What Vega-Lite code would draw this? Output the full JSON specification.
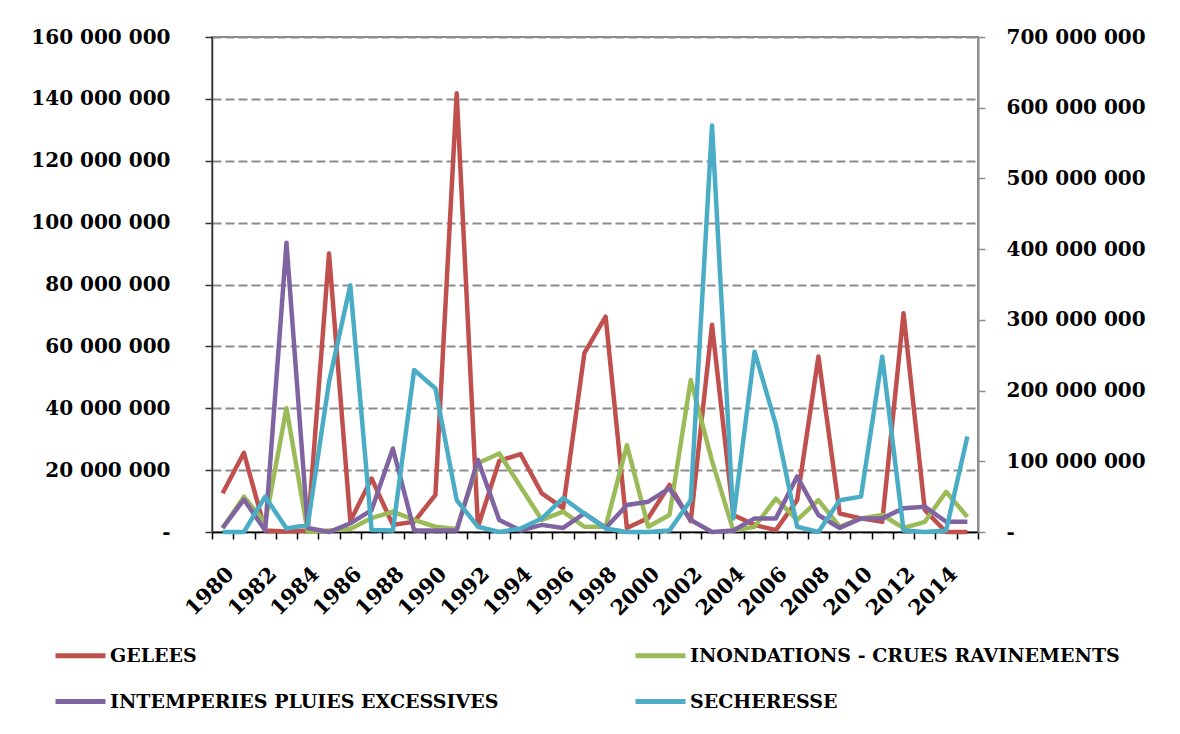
{
  "$schema": "https://vega.github.io/schema/vega-lite/v6.json",
  "width": 766,
  "height": 495,
  "autosize": {"type": "none"},
  "padding": {"left": 212, "top": 37, "right": 202, "bottom": 202},
  "background": "white",
  "config": {
    "view": {"stroke": "#8c8c8c", "strokeWidth": 2},
    "font": "DejaVu Serif",
    "axis": {
      "labelFont": "DejaVu Serif",
      "labelFontWeight": "bold",
      "labelFontSize": 20,
      "labelColor": "#000000",
      "tickSize": 7,
      "tickWidth": 1.5,
      "title": null
    }
  },
  "datasets": {
    "primary": [
      {"year": 1980, "series": "GELEES", "value": 12500000},
      {"year": 1981, "series": "GELEES", "value": 25600000},
      {"year": 1982, "series": "GELEES", "value": 500000},
      {"year": 1983, "series": "GELEES", "value": 200000},
      {"year": 1984, "series": "GELEES", "value": 500000},
      {"year": 1985, "series": "GELEES", "value": 90000000},
      {"year": 1986, "series": "GELEES", "value": 3500000},
      {"year": 1987, "series": "GELEES", "value": 17300000},
      {"year": 1988, "series": "GELEES", "value": 2300000},
      {"year": 1989, "series": "GELEES", "value": 3300000},
      {"year": 1990, "series": "GELEES", "value": 12000000},
      {"year": 1991, "series": "GELEES", "value": 141800000},
      {"year": 1992, "series": "GELEES", "value": 1700000},
      {"year": 1993, "series": "GELEES", "value": 23000000},
      {"year": 1994, "series": "GELEES", "value": 25200000},
      {"year": 1995, "series": "GELEES", "value": 12500000},
      {"year": 1996, "series": "GELEES", "value": 7700000},
      {"year": 1997, "series": "GELEES", "value": 57800000},
      {"year": 1998, "series": "GELEES", "value": 69600000},
      {"year": 1999, "series": "GELEES", "value": 1300000},
      {"year": 2000, "series": "GELEES", "value": 4500000},
      {"year": 2001, "series": "GELEES", "value": 15200000},
      {"year": 2002, "series": "GELEES", "value": 3500000},
      {"year": 2003, "series": "GELEES", "value": 67000000},
      {"year": 2004, "series": "GELEES", "value": 5500000},
      {"year": 2005, "series": "GELEES", "value": 2300000},
      {"year": 2006, "series": "GELEES", "value": 600000},
      {"year": 2007, "series": "GELEES", "value": 10300000},
      {"year": 2008, "series": "GELEES", "value": 56700000},
      {"year": 2009, "series": "GELEES", "value": 6000000},
      {"year": 2010, "series": "GELEES", "value": 4400000},
      {"year": 2011, "series": "GELEES", "value": 3300000},
      {"year": 2012, "series": "GELEES", "value": 70700000},
      {"year": 2013, "series": "GELEES", "value": 7100000},
      {"year": 2014, "series": "GELEES", "value": 0},
      {"year": 2015, "series": "GELEES", "value": 0},
      {"year": 1980, "series": "INONDATIONS - CRUES RAVINEMENTS", "value": 1300000},
      {"year": 1981, "series": "INONDATIONS - CRUES RAVINEMENTS", "value": 11400000},
      {"year": 1982, "series": "INONDATIONS - CRUES RAVINEMENTS", "value": 3000000},
      {"year": 1983, "series": "INONDATIONS - CRUES RAVINEMENTS", "value": 40000000},
      {"year": 1984, "series": "INONDATIONS - CRUES RAVINEMENTS", "value": 0},
      {"year": 1985, "series": "INONDATIONS - CRUES RAVINEMENTS", "value": 500000},
      {"year": 1986, "series": "INONDATIONS - CRUES RAVINEMENTS", "value": 1000000},
      {"year": 1987, "series": "INONDATIONS - CRUES RAVINEMENTS", "value": 4500000},
      {"year": 1988, "series": "INONDATIONS - CRUES RAVINEMENTS", "value": 6600000},
      {"year": 1989, "series": "INONDATIONS - CRUES RAVINEMENTS", "value": 3900000},
      {"year": 1990, "series": "INONDATIONS - CRUES RAVINEMENTS", "value": 1700000},
      {"year": 1991, "series": "INONDATIONS - CRUES RAVINEMENTS", "value": 1000000},
      {"year": 1992, "series": "INONDATIONS - CRUES RAVINEMENTS", "value": 22200000},
      {"year": 1993, "series": "INONDATIONS - CRUES RAVINEMENTS", "value": 25400000},
      {"year": 1994, "series": "INONDATIONS - CRUES RAVINEMENTS", "value": 14600000},
      {"year": 1995, "series": "INONDATIONS - CRUES RAVINEMENTS", "value": 3900000},
      {"year": 1996, "series": "INONDATIONS - CRUES RAVINEMENTS", "value": 6600000},
      {"year": 1997, "series": "INONDATIONS - CRUES RAVINEMENTS", "value": 1700000},
      {"year": 1998, "series": "INONDATIONS - CRUES RAVINEMENTS", "value": 1700000},
      {"year": 1999, "series": "INONDATIONS - CRUES RAVINEMENTS", "value": 28100000},
      {"year": 2000, "series": "INONDATIONS - CRUES RAVINEMENTS", "value": 1700000},
      {"year": 2001, "series": "INONDATIONS - CRUES RAVINEMENTS", "value": 5500000},
      {"year": 2002, "series": "INONDATIONS - CRUES RAVINEMENTS", "value": 49100000},
      {"year": 2003, "series": "INONDATIONS - CRUES RAVINEMENTS", "value": 23000000},
      {"year": 2004, "series": "INONDATIONS - CRUES RAVINEMENTS", "value": 500000},
      {"year": 2005, "series": "INONDATIONS - CRUES RAVINEMENTS", "value": 1700000},
      {"year": 2006, "series": "INONDATIONS - CRUES RAVINEMENTS", "value": 10800000},
      {"year": 2007, "series": "INONDATIONS - CRUES RAVINEMENTS", "value": 3900000},
      {"year": 2008, "series": "INONDATIONS - CRUES RAVINEMENTS", "value": 10300000},
      {"year": 2009, "series": "INONDATIONS - CRUES RAVINEMENTS", "value": 1700000},
      {"year": 2010, "series": "INONDATIONS - CRUES RAVINEMENTS", "value": 4400000},
      {"year": 2011, "series": "INONDATIONS - CRUES RAVINEMENTS", "value": 5500000},
      {"year": 2012, "series": "INONDATIONS - CRUES RAVINEMENTS", "value": 1300000},
      {"year": 2013, "series": "INONDATIONS - CRUES RAVINEMENTS", "value": 3300000},
      {"year": 2014, "series": "INONDATIONS - CRUES RAVINEMENTS", "value": 13000000},
      {"year": 2015, "series": "INONDATIONS - CRUES RAVINEMENTS", "value": 4900000},
      {"year": 1980, "series": "INTEMPERIES PLUIES EXCESSIVES", "value": 1300000},
      {"year": 1981, "series": "INTEMPERIES PLUIES EXCESSIVES", "value": 10500000},
      {"year": 1982, "series": "INTEMPERIES PLUIES EXCESSIVES", "value": 500000},
      {"year": 1983, "series": "INTEMPERIES PLUIES EXCESSIVES", "value": 93500000},
      {"year": 1984, "series": "INTEMPERIES PLUIES EXCESSIVES", "value": 1300000},
      {"year": 1985, "series": "INTEMPERIES PLUIES EXCESSIVES", "value": 0},
      {"year": 1986, "series": "INTEMPERIES PLUIES EXCESSIVES", "value": 2800000},
      {"year": 1987, "series": "INTEMPERIES PLUIES EXCESSIVES", "value": 7100000},
      {"year": 1988, "series": "INTEMPERIES PLUIES EXCESSIVES", "value": 27000000},
      {"year": 1989, "series": "INTEMPERIES PLUIES EXCESSIVES", "value": 500000},
      {"year": 1990, "series": "INTEMPERIES PLUIES EXCESSIVES", "value": 500000},
      {"year": 1991, "series": "INTEMPERIES PLUIES EXCESSIVES", "value": 500000},
      {"year": 1992, "series": "INTEMPERIES PLUIES EXCESSIVES", "value": 23300000},
      {"year": 1993, "series": "INTEMPERIES PLUIES EXCESSIVES", "value": 3900000},
      {"year": 1994, "series": "INTEMPERIES PLUIES EXCESSIVES", "value": 500000},
      {"year": 1995, "series": "INTEMPERIES PLUIES EXCESSIVES", "value": 2300000},
      {"year": 1996, "series": "INTEMPERIES PLUIES EXCESSIVES", "value": 1300000},
      {"year": 1997, "series": "INTEMPERIES PLUIES EXCESSIVES", "value": 6000000},
      {"year": 1998, "series": "INTEMPERIES PLUIES EXCESSIVES", "value": 1300000},
      {"year": 1999, "series": "INTEMPERIES PLUIES EXCESSIVES", "value": 8700000},
      {"year": 2000, "series": "INTEMPERIES PLUIES EXCESSIVES", "value": 9800000},
      {"year": 2001, "series": "INTEMPERIES PLUIES EXCESSIVES", "value": 14100000},
      {"year": 2002, "series": "INTEMPERIES PLUIES EXCESSIVES", "value": 3900000},
      {"year": 2003, "series": "INTEMPERIES PLUIES EXCESSIVES", "value": 0},
      {"year": 2004, "series": "INTEMPERIES PLUIES EXCESSIVES", "value": 500000},
      {"year": 2005, "series": "INTEMPERIES PLUIES EXCESSIVES", "value": 4400000},
      {"year": 2006, "series": "INTEMPERIES PLUIES EXCESSIVES", "value": 4400000},
      {"year": 2007, "series": "INTEMPERIES PLUIES EXCESSIVES", "value": 17900000},
      {"year": 2008, "series": "INTEMPERIES PLUIES EXCESSIVES", "value": 5500000},
      {"year": 2009, "series": "INTEMPERIES PLUIES EXCESSIVES", "value": 1300000},
      {"year": 2010, "series": "INTEMPERIES PLUIES EXCESSIVES", "value": 4400000},
      {"year": 2011, "series": "INTEMPERIES PLUIES EXCESSIVES", "value": 4400000},
      {"year": 2012, "series": "INTEMPERIES PLUIES EXCESSIVES", "value": 7700000},
      {"year": 2013, "series": "INTEMPERIES PLUIES EXCESSIVES", "value": 8200000},
      {"year": 2014, "series": "INTEMPERIES PLUIES EXCESSIVES", "value": 3300000},
      {"year": 2015, "series": "INTEMPERIES PLUIES EXCESSIVES", "value": 3300000}
    ],
    "secondary": [
      {"year": 1980, "series": "SECHERESSE", "value": 0},
      {"year": 1981, "series": "SECHERESSE", "value": 0},
      {"year": 1982, "series": "SECHERESSE", "value": 50000000},
      {"year": 1983, "series": "SECHERESSE", "value": 5000000},
      {"year": 1984, "series": "SECHERESSE", "value": 10000000},
      {"year": 1985, "series": "SECHERESSE", "value": 212000000},
      {"year": 1986, "series": "SECHERESSE", "value": 349000000},
      {"year": 1987, "series": "SECHERESSE", "value": 3000000},
      {"year": 1988, "series": "SECHERESSE", "value": 2000000},
      {"year": 1989, "series": "SECHERESSE", "value": 229000000},
      {"year": 1990, "series": "SECHERESSE", "value": 203000000},
      {"year": 1991, "series": "SECHERESSE", "value": 45000000},
      {"year": 1992, "series": "SECHERESSE", "value": 7500000},
      {"year": 1993, "series": "SECHERESSE", "value": 0},
      {"year": 1994, "series": "SECHERESSE", "value": 5000000},
      {"year": 1995, "series": "SECHERESSE", "value": 19000000},
      {"year": 1996, "series": "SECHERESSE", "value": 48000000},
      {"year": 1997, "series": "SECHERESSE", "value": 26000000},
      {"year": 1998, "series": "SECHERESSE", "value": 5000000},
      {"year": 1999, "series": "SECHERESSE", "value": 0},
      {"year": 2000, "series": "SECHERESSE", "value": 0},
      {"year": 2001, "series": "SECHERESSE", "value": 2000000},
      {"year": 2002, "series": "SECHERESSE", "value": 45000000},
      {"year": 2003, "series": "SECHERESSE", "value": 575000000},
      {"year": 2004, "series": "SECHERESSE", "value": 19000000},
      {"year": 2005, "series": "SECHERESSE", "value": 255000000},
      {"year": 2006, "series": "SECHERESSE", "value": 152000000},
      {"year": 2007, "series": "SECHERESSE", "value": 7500000},
      {"year": 2008, "series": "SECHERESSE", "value": 0},
      {"year": 2009, "series": "SECHERESSE", "value": 45000000},
      {"year": 2010, "series": "SECHERESSE", "value": 50000000},
      {"year": 2011, "series": "SECHERESSE", "value": 248000000},
      {"year": 2012, "series": "SECHERESSE", "value": 2000000},
      {"year": 2013, "series": "SECHERESSE", "value": 0},
      {"year": 2014, "series": "SECHERESSE", "value": 2000000},
      {"year": 2015, "series": "SECHERESSE", "value": 135000000}
    ]
  },
  "layer": [
    {
      "data": {"name": "primary"},
      "mark": {"type": "line", "strokeWidth": 4.5, "strokeJoin": "round"},
      "encoding": {
        "x": {
          "field": "year",
          "type": "ordinal",
          "scale": {"type": "band", "paddingInner": 0, "paddingOuter": 0},
          "axis": {
            "tickBand": "extent",
            "labelAngle": -45,
            "labelPadding": 24,
            "labelFontSize": 21,
            "domainColor": "#000000",
            "domainWidth": 1.5,
            "tickColor": "#000000",
            "labelExpr": "datum.value % 2 == 0 ? datum.label : ''"
          }
        },
        "y": {
          "field": "value",
          "type": "quantitative",
          "scale": {"domain": [0, 160000000], "nice": false},
          "axis": {
            "values": [0, 20000000, 40000000, 60000000, 80000000, 100000000, 120000000, 140000000, 160000000],
            "grid": true,
            "gridColor": "#8c8c8c",
            "gridDash": [9, 4],
            "gridWidth": 2,
            "domainColor": "#333333",
            "domainWidth": 1.5,
            "tickColor": "#333333",
            "labelPadding": 35,
            "labelExpr": "datum.value == 0 ? '-\u2002' : replace(format(datum.value, ',.0f'), regexp(',', 'g'), ' ')"
          }
        },
        "color": {
          "field": "series",
          "type": "nominal",
          "scale": {
            "domain": ["GELEES", "INONDATIONS - CRUES RAVINEMENTS", "INTEMPERIES PLUIES EXCESSIVES", "SECHERESSE"],
            "range": ["#C0504D", "#9BBB59", "#8064A2", "#4BACC6"]
          },
          "legend": {
            "orient": "none",
            "legendX": -159,
            "legendY": 591,
            "title": null,
            "columns": 2,
            "direction": "horizontal",
            "symbolType": "stroke",
            "symbolSize": 2500,
            "symbolStrokeWidth": 5,
            "labelFont": "DejaVu Serif",
            "labelFontWeight": "bold",
            "labelFontSize": 19,
            "labelColor": "#000000",
            "labelLimit": 700,
            "labelOffset": 2,
            "columnPadding": 126,
            "rowPadding": 8
          }
        }
      }
    },
    {
      "data": {"name": "secondary"},
      "mark": {"type": "line", "strokeWidth": 4.5, "strokeJoin": "round"},
      "encoding": {
        "x": {"field": "year", "type": "ordinal"},
        "y": {
          "field": "value",
          "type": "quantitative",
          "scale": {"domain": [0, 700000000], "nice": false},
          "axis": {
            "orient": "right",
            "values": [0, 100000000, 200000000, 300000000, 400000000, 500000000, 600000000, 700000000],
            "grid": false,
            "domainColor": "#8c8c8c",
            "domainWidth": 2,
            "tickColor": "#8c8c8c",
            "labelPadding": 21,
            "labelExpr": "datum.value == 0 ? '-' : replace(format(datum.value, ',.0f'), regexp(',', 'g'), ' ')"
          }
        },
        "color": {"field": "series", "type": "nominal"}
      }
    }
  ],
  "resolve": {"scale": {"y": "independent"}}
}
